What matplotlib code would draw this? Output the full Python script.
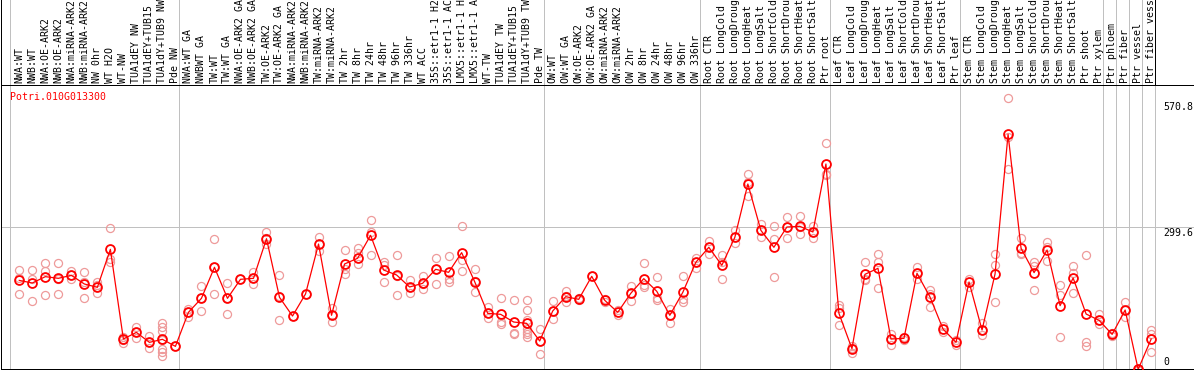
import matplotlib
matplotlib.use("Agg")
import matplotlib.pyplot as plt
from matplotlib.transforms import offset_copy

gene = "Potri.010G013300"

labels = [
    "NWA:WT", "NWB:WT", "NWA:OE-ARK2", "NWB:OE-ARK2", "NWA:miRNA-ARK2", "NWB:miRNA-ARK2",
    "NW 0hr", "WT H2O", "WT-NW", "TUA1dEY NW", "TUA1dEY+TUB15 NW", "TUA1dY+TUB9 NW", "Pde NW",
    "NWA:WT GA", "NWBWT GA", "TW:WT", "TW:WT GA", "NWA:OE-ARK2 GA", "NWB:OE-ARK2 GA",
    "TW:OE-ARK2", "TW:OE-ARK2 GA", "NWA:miRNA-ARK2", "NWB:miRNA-ARK2", "TW:miRNA-ARK2",
    "TW:miRNA-ARK2", "TW 2hr", "TW 8hr", "TW 24hr", "TW 48hr", "TW 96hr", "TW 336hr", "WT ACC",
    "35S::etr1-1 H2O", "35S::etr1-1 ACC", "LMX5::etr1-1 H2O", "LMX5::etr1-1 ACC", "WT-TW",
    "TUA1dEY TW", "TUA1dEY+TUB15 TW", "TUA1dY+TUB9 TW", "Pde TW",
    "OW:WT", "OW:WT GA", "OW:OE-ARK2", "OW:OE-ARK2 GA", "OW:miRNA-ARK2", "OW:miRNA-ARK2",
    "OW 2hr", "OW 8hr", "OW 24hr", "OW 48hr", "OW 96hr", "OW 336hr",
    "Root CTR", "Root LongCold", "Root LongDrought", "Root LongHeat", "Root LongSalt",
    "Root ShortCold", "Root ShortDrought", "Root ShortHeat", "Root ShortSalt", "Ptr root",
    "Leaf CTR", "Leaf LongCold", "Leaf LongDrought", "Leaf LongHeat", "Leaf LongSalt",
    "Leaf ShortCold", "Leaf ShortDrought", "Leaf ShortHeat", "Leaf ShortSalt", "Ptr leaf",
    "Stem CTR", "Stem LongCold", "Stem LongDrought", "Stem LongHeat", "Stem LongSalt",
    "Stem ShortCold", "Stem ShortDrought", "Stem ShortHeat", "Stem ShortSalt", "Ptr shoot",
    "Ptr xylem", "Ptr phloem", "Ptr fiber", "Ptr vessel", "Ptr fiber vessel",
]

means = [
    188, 182.6, 195.9, 192.4, 198.7, 180.5, 173.5, 253.2, 65, 79, 58, 64.4, 49.6,
    121, 150.4, 215.5, 150.4, 190.3, 192.4, 275.6, 152.5, 113.3, 159.5, 264.4, 114.8,
    222.5, 234.4, 282.7, 209.9, 199.4, 174.2, 181.9, 211.3, 205, 246.3, 185.4, 118.9,
    116.8, 100.7, 97.9, 60.9,
    123.8, 153.9, 148.3, 196.6, 146.2, 121, 160.9, 191.7, 165.1, 114.8, 163, 226,
    257.5, 219.7, 278.5, 390.3, 293.1, 257.5, 300.1, 301.5, 289.6, 432.3,
    118.9, 44.8, 200.8, 213.4, 65, 66.4, 202.9, 153.2, 86, 58,
    184.7, 83.9, 201.5, 494.6, 255.3, 204.3, 251.8, 135, 193.1, 117.5,
    104.2, 74.8, 125.9, 1.4, 65,
]

replicates = [
    [209, 194, 159], [210, 192, 144], [225, 208, 157], [224, 192, 159], [208, 199, 190],
    [205, 185, 151], [184, 178, 161], [299, 233, 226], [69, 64, 57], [91, 79, 68],
    [72, 58, 47], [98, 91, 82, 64, 45, 38, 30], [50],
    [129, 121, 111], [176, 151, 124], [274, 216, 159], [183, 151, 117], [190],
    [205, 193, 181], [290, 276, 264], [199, 156, 105], [113], [159], [279, 264, 250],
    [130, 115, 101], [251, 213, 201], [257, 245, 222], [314, 290, 241], [227, 220, 184],
    [241, 198, 157], [189, 174, 161], [198, 181, 169], [236, 212, 180], [239, 191, 185],
    [302, 230, 207], [211, 186, 164], [132, 119, 110], [152, 101, 96], [146, 78, 76],
    [146, 125, 104, 86, 80, 76, 70], [87, 60, 33],
    [145, 124, 106], [166, 155, 143], [151, 147], [197], [150, 143], [126, 116],
    [177, 162, 145], [225, 178, 174], [195, 152, 147], [129, 115, 98], [197, 150, 143],
    [236, 227, 215],
    [271, 258, 243], [241, 227, 192], [294, 279, 266], [411, 394, 365], [306, 293, 280],
    [302, 275, 195], [321, 300, 276], [323, 301, 285], [302, 290, 276], [476, 411, 410],
    [136, 131, 94], [50, 47, 35], [226, 189, 190], [243, 226, 172], [76, 65, 53],
    [70, 64], [216, 203, 190], [168, 160, 132], [92, 80], [64, 53],
    [191, 175], [98, 84, 74], [243, 220, 142], [570.8, 490, 422], [276, 245, 243],
    [226, 219, 168], [268, 259, 229], [178, 157, 69], [218, 204, 161], [241, 58, 50],
    [118, 104, 96], [77, 71], [142, 126, 111], [0, 1, 2], [83, 75, 37],
]

group_starts = [0, 13, 41, 53, 63, 73, 84, 85, 86, 87, 88]
ytick_vals = [570.8, 299.6, 0]
ytick_labels = ["570.8", "299.6", "0"]

MONO = "DejaVu Sans Mono"
FS = 7.1
W, H = 1194, 370
fig = plt.figure(figsize=(W / 100, H / 100), dpi=100)
ax = fig.add_axes([1 / W, 1 / H, 1193 / W, 284 / H])

x = list(range(len(means)))
step = 13.01
ax.set_xlim((1 - 19.3) / step, (W - 19.3) / step)
ax.set_ylim(2.1, 598.1)

lw1 = 0.72
grid_c = "#c0c0c0"
top_ext = 1 + 85 / 284
for gs in group_starts:
    xb = gs - 0.7
    ax.plot([xb, xb], [0, 1], color=grid_c, lw=lw1, transform=ax.get_xaxis_transform(),
            zorder=1, clip_on=False)
    ax.plot([xb, xb], [1, top_ext], color=("black" if gs == 88 else grid_c), lw=lw1,
            transform=ax.get_xaxis_transform(), zorder=1, clip_on=False)
ax.plot([0, 0], [1, top_ext], color="black", lw=lw1, transform=ax.transAxes, clip_on=False)
ax.axhline(299.6, color=grid_c, lw=lw1, zorder=1)

rx, ry = [], []
for i, reps in enumerate(replicates):
    for r in reps:
        rx.append(i)
        ry.append(r)
ax.plot(rx, ry, ls="none", marker="o", ms=5.8, mfc="none", mec="#ee9a9a", mew=0.9, zorder=2)
ax.plot(x, means, color="#ff0000", lw=0.9, zorder=3)
ax.plot(x, means, ls="none", marker="o", ms=6.4, mfc="none", mec="#ff0000", mew=1.3, zorder=4)

for s in ["left", "top", "bottom"]:
    ax.spines[s].set_linewidth(lw1)
    ax.spines[s].set_color("black")
ax.spines["right"].set_visible(False)

ax.set_xticks(x)
ax.set_xticklabels(labels, rotation=90, family=MONO, fontsize=FS)
ax.tick_params(axis="x", top=True, bottom=False, labeltop=True, labelbottom=False,
               length=0, pad=1.4)
ax.set_yticks([])

offsets = [-9, -5.5, 8]
for v, lab, off in zip(ytick_vals, ytick_labels, offsets):
    tr = offset_copy(ax.get_yaxis_transform(), fig=fig, x=0, y=off, units="dots")
    ax.text((1163 - 1) / 1193, v, lab, transform=tr, family=MONO, fontsize=FS,
            va="center", ha="left", clip_on=False)

ax.text((10 - 1) / 1193, (369 - 97) / 284, gene, transform=ax.transAxes, color="#ff0000",
        family=MONO, fontsize=FS, va="center", ha="left")

fig.savefig("out.png", dpi=100)
